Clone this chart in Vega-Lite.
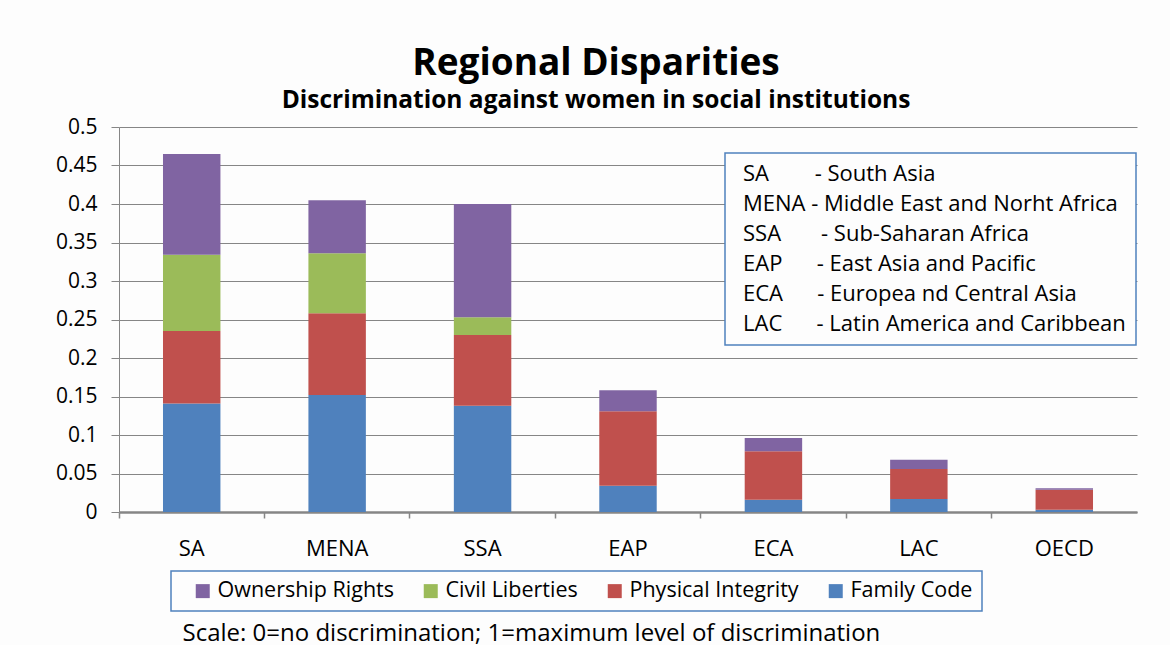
{
  "$schema": "https://vega.github.io/schema/vega-lite/v6.json",
  "width": 1018,
  "height": 385,
  "autosize": {"type": "none"},
  "padding": {"left": 119, "top": 127, "right": 33, "bottom": 133},
  "background": "#fdfdfd",
  "title": {
    "text": "Regional Disparities",
    "subtitle": "Discrimination against women in social institutions",
    "font": "Open Sans",
    "fontSize": 37,
    "fontWeight": "bold",
    "color": "#000000",
    "subtitleFont": "Open Sans",
    "subtitleFontSize": 24.5,
    "subtitleFontWeight": "bold",
    "subtitleColor": "#000000",
    "subtitlePadding": 6,
    "anchor": "middle",
    "dx": -32,
    "offset": 3
  },
  "datasets": {
    "scores": [
      {"region": "SA", "component": "Family Code", "value": 0.141},
      {"region": "SA", "component": "Physical Integrity", "value": 0.094},
      {"region": "SA", "component": "Civil Liberties", "value": 0.099},
      {"region": "SA", "component": "Ownership Rights", "value": 0.131},
      {"region": "MENA", "component": "Family Code", "value": 0.152},
      {"region": "MENA", "component": "Physical Integrity", "value": 0.106},
      {"region": "MENA", "component": "Civil Liberties", "value": 0.078},
      {"region": "MENA", "component": "Ownership Rights", "value": 0.069},
      {"region": "SSA", "component": "Family Code", "value": 0.138},
      {"region": "SSA", "component": "Physical Integrity", "value": 0.092},
      {"region": "SSA", "component": "Civil Liberties", "value": 0.023},
      {"region": "SSA", "component": "Ownership Rights", "value": 0.147},
      {"region": "EAP", "component": "Family Code", "value": 0.034},
      {"region": "EAP", "component": "Physical Integrity", "value": 0.097},
      {"region": "EAP", "component": "Ownership Rights", "value": 0.027},
      {"region": "ECA", "component": "Family Code", "value": 0.016},
      {"region": "ECA", "component": "Physical Integrity", "value": 0.063},
      {"region": "ECA", "component": "Ownership Rights", "value": 0.017},
      {"region": "LAC", "component": "Family Code", "value": 0.017},
      {"region": "LAC", "component": "Physical Integrity", "value": 0.039},
      {"region": "LAC", "component": "Ownership Rights", "value": 0.012},
      {"region": "OECD", "component": "Family Code", "value": 0.003},
      {"region": "OECD", "component": "Physical Integrity", "value": 0.026},
      {"region": "OECD", "component": "Ownership Rights", "value": 0.002}
    ],
    "regions": [
      {"region": "SA", "label": "SA\u00a0\u00a0\u00a0\u00a0\u00a0\u00a0\u00a0\u00a0- South Asia"},
      {"region": "MENA", "label": "MENA - Middle East and Norht Africa"},
      {"region": "SSA", "label": "SSA\u00a0\u00a0\u00a0\u00a0\u00a0\u00a0\u00a0- Sub-Saharan Africa"},
      {"region": "EAP", "label": "EAP\u00a0\u00a0\u00a0\u00a0\u00a0\u00a0- East Asia and Pacific"},
      {"region": "ECA", "label": "ECA\u00a0\u00a0\u00a0\u00a0\u00a0\u00a0- Europea nd Central Asia"},
      {"region": "LAC", "label": "LAC\u00a0\u00a0\u00a0\u00a0\u00a0\u00a0- Latin America and Caribbean"}
    ]
  },
  "encoding": {
    "x": {
      "field": "region",
      "type": "nominal",
      "sort": ["SA", "MENA", "SSA", "EAP", "ECA", "LAC", "OECD"],
      "scale": {"domain": ["SA", "MENA", "SSA", "EAP", "ECA", "LAC", "OECD"], "paddingInner": 0, "paddingOuter": 0},
      "axis": {
        "title": "Scale: 0=no discrimination; 1=maximum level of discrimination",
        "titleAnchor": "start",
        "titleAlign": "left",
        "titleX": 63,
        "titleY": 128,
        "titleBaseline": "alphabetic",
        "titleFont": "Open Sans",
        "titleFontSize": 24,
        "titleFontWeight": "normal",
        "titleColor": "#000000",
        "labelFont": "Open Sans",
        "labelFontSize": 22,
        "labelColor": "#000000",
        "labelAngle": 0,
        "labelPadding": 20,
        "bandPosition": 0,
        "labelOffset": 0,
        "tickSize": 6,
        "tickColor": "#868686",
        "tickWidth": 1.5,
        "domainColor": "#868686",
        "domainWidth": 2.5,
        "grid": false
      }
    }
  },
  "layer": [
    {
      "data": {"name": "scores"},
      "transform": [
        {"calculate": "indexof(['Family Code','Physical Integrity','Civil Liberties','Ownership Rights'], datum.component)", "as": "stackOrder"}
      ],
      "mark": {"type": "bar", "width": {"band": 0.395}},
      "encoding": {
        "y": {
          "field": "value",
          "type": "quantitative",
          "stack": "zero",
          "scale": {"domain": [0, 0.5], "nice": false},
          "axis": {
            "title": null,
            "values": [0, 0.05, 0.1, 0.15, 0.2, 0.25, 0.3, 0.35, 0.4, 0.45, 0.5],
            "format": ".2~f",
            "labelFont": "Open Sans",
            "labelFontSize": 21,
            "labelColor": "#000000",
            "labelPadding": 14,
            "tickSize": 8,
            "tickColor": "#868686",
            "domainColor": "#868686",
            "domainWidth": 1,
            "grid": true,
            "gridColor": "#868686",
            "gridWidth": 1
          }
        },
        "color": {
          "field": "component",
          "type": "nominal",
          "scale": {
            "domain": ["Ownership Rights", "Civil Liberties", "Physical Integrity", "Family Code"],
            "range": ["#8064A2", "#9BBB59", "#C0504D", "#4F81BD"]
          },
          "legend": {
            "title": null,
            "orient": "none",
            "legendX": 52,
            "legendY": 444,
            "direction": "horizontal",
            "columns": 4,
            "symbolType": "square",
            "symbolSize": 196,
            "symbolStrokeWidth": 0,
            "symbolOffset": 12,
            "labelFont": "Open Sans",
            "labelFontSize": 21.5,
            "labelColor": "#000000",
            "labelOffset": 4,
            "labelLimit": 400,
            "columnPadding": 14,
            "padding": 9,
            "strokeColor": "#4F81BD",
            "fillColor": "#fdfdfd"
          }
        },
        "order": {"field": "stackOrder", "type": "quantitative", "sort": "ascending"}
      }
    },
    {
      "data": {"name": "regions"},
      "mark": {"type": "point", "opacity": 0},
      "encoding": {
        "shape": {
          "field": "label",
          "type": "nominal",
          "scale": {
            "domain": [
              "SA\u00a0\u00a0\u00a0\u00a0\u00a0\u00a0\u00a0\u00a0- South Asia",
              "MENA - Middle East and Norht Africa",
              "SSA\u00a0\u00a0\u00a0\u00a0\u00a0\u00a0\u00a0- Sub-Saharan Africa",
              "EAP\u00a0\u00a0\u00a0\u00a0\u00a0\u00a0- East Asia and Pacific",
              "ECA\u00a0\u00a0\u00a0\u00a0\u00a0\u00a0- Europea nd Central Asia",
              "LAC\u00a0\u00a0\u00a0\u00a0\u00a0\u00a0- Latin America and Caribbean"
            ],
            "range": ["square"]
          },
          "legend": {
            "title": null,
            "orient": "none",
            "legendX": 606,
            "legendY": 26,
            "direction": "vertical",
            "symbolSize": 0,
            "symbolOpacity": 0,
            "symbolStrokeWidth": 0,
            "labelFont": "Open Sans",
            "labelFontSize": 22,
            "labelColor": "#000000",
            "labelOffset": -14,
            "labelLimit": 500,
            "rowPadding": 8,
            "padding": 10,
            "strokeColor": "#4F81BD",
            "fillColor": "#fdfdfd"
          }
        }
      }
    }
  ],
  "config": {
    "view": {"stroke": null},
    "legend": {"strokeWidth": 1.5}
  }
}
